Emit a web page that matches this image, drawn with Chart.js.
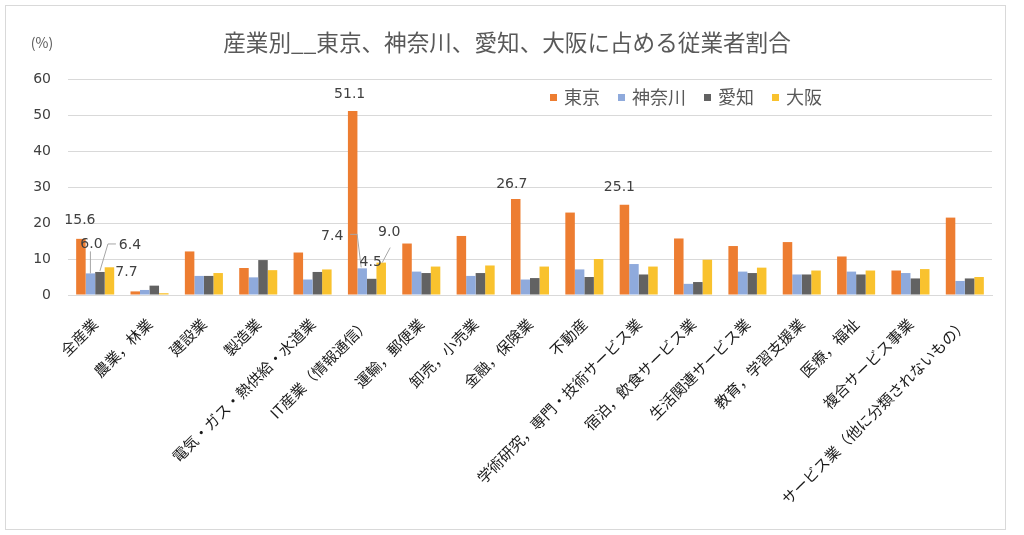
<!DOCTYPE html>
<html><head><meta charset="utf-8">
<script src="https://cdn.jsdelivr.net/npm/chart.js@4"></script>
<style>
html,body{margin:0;padding:0;background:#fff;}
#wrap{position:relative;width:1024px;height:535px;overflow:hidden;}
#frame{position:absolute;left:5px;top:5px;width:1001px;height:525px;border:1px solid #d9d9d9;box-sizing:border-box;}
canvas{position:absolute;left:0;top:0;}
</style></head><body>
<div id="wrap"><div id="frame"></div><canvas id="c" width="1024" height="535"></canvas></div>
<script>
const categories = ['全産業','農業，林業','建設業','製造業','電気・ガス・熱供給・水道業','IT産業（情報通信）','運輸，郵便業','卸売，小売業','金融，保険業','不動産','学術研究，専門・技術サービス業','宿泊，飲食サービス業','生活関連サービス業','教育，学習支援業','医療，福祉','複合サービス事業','サービス業（他に分類されないもの）'];
const tokyo    = [15.6, 1.0, 12.1, 7.5, 11.8, 51.1, 14.3, 16.4, 26.7, 22.9, 25.1, 15.7, 13.6, 14.7, 10.7, 6.8, 21.5];
const kanagawa = [6.0, 1.4, 5.3, 4.9, 4.3, 7.4, 6.5, 5.3, 4.3, 7.1, 8.6, 3.1, 6.5, 5.7, 6.5, 6.1, 3.9];
const aichi    = [6.4, 2.6, 5.3, 9.7, 6.4, 4.5, 6.1, 6.1, 4.7, 5.0, 5.7, 3.6, 6.1, 5.7, 5.7, 4.6, 4.6];
const osaka    = [7.7, 0.5, 6.1, 6.9, 7.1, 9.0, 7.9, 8.2, 7.9, 10.0, 7.9, 9.8, 7.6, 6.8, 6.8, 7.2, 5.0];
const seriesNames = ['東京','神奈川','愛知','大阪'];
const yTickValues = [0,10,20,30,40,50,60];
const titleText = '産業別__東京、神奈川、愛知、大阪に占める従業者割合';
const unitText = '(%)';

const seriesColors = ['#ED7D31','#8FAADC','#626262','#F9C22E'];
const seriesData = [tokyo, kanagawa, aichi, osaka];

// which bars carry a value label (dataset, index) and where the label sits relative to the bar top
const labelMarks = [
  {ds:0, i:0, dx:-1, dy:-18},
  {ds:1, i:0, dx:1, dy:-29, leader:[[0,-22],[0,0]]},
  {ds:2, i:0, dx:30, dy:-27, leader:[[16,-28],[8,-28],[0,-1]]},
  {ds:3, i:0, dx:17, dy:5},
  {ds:0, i:5, dx:-3, dy:-17},
  {ds:1, i:5, dx:-30, dy:-32, leader:[[-12,-34],[-5,-34],[-1,-1]]},
  {ds:2, i:5, dx:-1, dy:-16},
  {ds:3, i:5, dx:8, dy:-30, leader:[[9,-15],[1,0]]},
  {ds:0, i:8, dx:-4, dy:-15},
  {ds:0, i:10, dx:-5, dy:-17}
];

const CJK = '"Noto Sans CJK JP", "Noto Sans", sans-serif';
const NUM = '"DejaVu Sans", sans-serif';

const decor = {
  id:'decor',
  afterDatasetsDraw(chart){
    const ctx = chart.ctx;
    ctx.save();
    labelMarks.forEach(m=>{
      const el = chart.getDatasetMeta(m.ds).data[m.i];
      const x = el.x, y = el.y;
      if(m.leader){
        ctx.strokeStyle='#a6a6a6'; ctx.lineWidth=1;
        ctx.beginPath();
        m.leader.forEach((p,k)=>{ if(k===0) ctx.moveTo(x+p[0],y+p[1]); else ctx.lineTo(x+p[0],y+p[1]); });
        ctx.stroke();
      }
      ctx.fillStyle='#404040';
      ctx.font='14px '+NUM;
      ctx.textAlign='center'; ctx.textBaseline='middle';
      ctx.fillText(seriesData[m.ds][m.i].toFixed(1), x+m.dx, y+m.dy);
    });
    ctx.restore();
  },
  afterDraw(chart){
    const ctx = chart.ctx;
    ctx.save();
    ctx.fillStyle='#595959';
    ctx.font='22.6px '+CJK;
    ctx.textAlign='center'; ctx.textBaseline='middle';
    ctx.fillText(titleText, 507, 42);
    ctx.font='14px '+CJK;
    ctx.fillText(unitText, 42, 43);
    // legend
    ctx.font='18px '+CJK;
    ctx.textAlign='left';
    let lx = 550;
    seriesNames.forEach((n,k)=>{
      ctx.fillStyle=seriesColors[k];
      ctx.fillRect(lx, 94, 7, 7);
      ctx.fillStyle='#595959';
      ctx.fillText(n, lx+14, 97);
      lx += 14 + ctx.measureText(n).width + 18;
    });
    ctx.restore();
  }
};

new Chart(document.getElementById('c'), {
  type:'bar',
  data:{
    labels: categories,
    datasets: seriesNames.map((n,k)=>({
      label:n, data:seriesData[k], backgroundColor:seriesColors[k],
      categoryPercentage:0.7, barPercentage:1.0
    }))
  },
  options:{
    responsive:false, animation:false,
    layout:{padding:{top:79,right:32,left:0,bottom:0}},
    plugins:{legend:{display:false}, title:{display:false}, tooltip:{enabled:false}},
    scales:{
      x:{
        grid:{display:false, drawTicks:false},
        border:{display:true, color:'#d9d9d9'},
        ticks:{autoSkip:false, maxRotation:45, minRotation:45, padding:20, color:'#1a1a1a', font:{family:CJK, size:15}},
        afterFit(s){ s.height = 240; }
      },
      y:{
        min:0, max:60,
        afterBuildTicks(s){ s.ticks = yTickValues.map(v=>({value:v})); },
        grid:{color:'#d9d9d9', drawTicks:false},
        border:{display:false},
        ticks:{padding:17, color:'#404040', font:{family:NUM, size:14}},
        afterFit(s){ s.width = 68; }
      }
    }
  },
  plugins:[decor]
});
</script>
</body></html>
